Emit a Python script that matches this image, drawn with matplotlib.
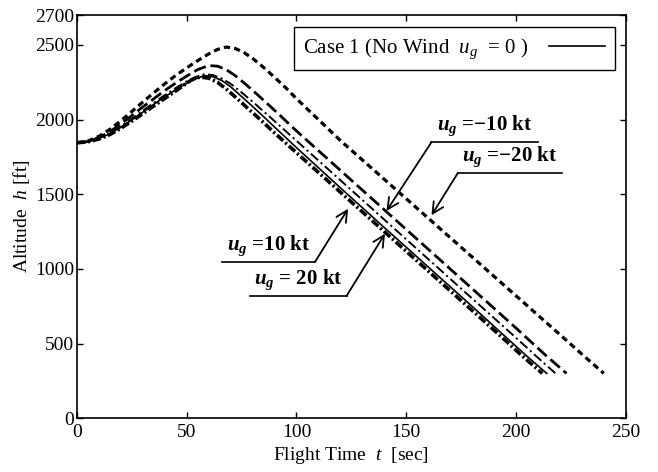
import matplotlib
matplotlib.use("Agg")
import matplotlib.pyplot as plt

plt.rcParams["font.family"] = ["Liberation Serif", "DejaVu Serif"]
plt.rcParams["mathtext.fontset"] = "custom"
plt.rcParams["mathtext.rm"] = "Liberation Serif"
plt.rcParams["mathtext.it"] = "Liberation Serif:italic"
plt.rcParams["mathtext.bf"] = "Liberation Serif:bold"
plt.rcParams["mathtext.bfit"] = "Liberation Serif:italic:bold"
plt.rcParams["lines.scale_dashes"] = False

# flight time [sec] and altitude [ft]
t_ug0 = [0, 5, 10, 15, 20, 25, 30, 35, 40, 45, 50, 54, 58, 62, 66, 70, 75, 80, 85, 90,
         100, 120, 140, 160, 180, 195, 205, 214]
h_ug0 = [1845, 1852, 1873, 1905, 1948, 1998, 2050, 2102, 2152, 2200, 2243, 2272, 2295, 2287,
         2262, 2220, 2155, 2088, 2020, 1950, 1812, 1543, 1277, 1013, 749, 548, 415, 300]

t_ug10 = [0, 5, 10, 15, 20, 25, 30, 35, 40, 45, 50, 53, 56, 60, 64, 68, 73, 78, 85, 90,
          100, 120, 140, 160, 180, 193, 203, 212]
h_ug10 = [1845, 1851, 1870, 1900, 1942, 1990, 2040, 2092, 2142, 2192, 2245, 2272, 2285, 2278,
          2250, 2205, 2140, 2073, 1980, 1911, 1778, 1514, 1250, 986, 722, 550, 415, 300]

t_ug20 = [0, 5, 10, 15, 20, 25, 30, 35, 40, 45, 50, 54, 58, 62, 66, 70, 75, 80, 85, 90,
          100, 120, 140, 160, 180, 199, 209, 218]
h_ug20 = [1845, 1852, 1876, 1910, 1955, 2006, 2060, 2113, 2164, 2212, 2256, 2285, 2304, 2298,
          2275, 2240, 2182, 2120, 2055, 1990, 1858, 1594, 1330, 1066, 802, 552, 418, 300]

t_ugm10 = [0, 5, 10, 15, 20, 25, 30, 35, 40, 45, 50, 55, 60, 64, 68, 72, 77, 82, 87, 92,
           100, 120, 140, 160, 180, 200, 213, 223]
h_ugm10 = [1845, 1853, 1880, 1920, 1970, 2027, 2085, 2140, 2195, 2245, 2292, 2335, 2362, 2358,
           2335, 2295, 2235, 2170, 2103, 2035, 1924, 1660, 1396, 1132, 868, 604, 428, 300]

t_ugm20 = [0, 5, 10, 15, 20, 25, 30, 35, 40, 45, 50, 55, 60, 64, 68, 72, 76, 80, 85, 90,
           95, 100, 110, 120, 140, 160, 180, 200, 220, 231, 240]
h_ugm20 = [1845, 1856, 1888, 1935, 1992, 2055, 2118, 2180, 2240, 2296, 2347, 2395, 2440, 2470,
           2486, 2477, 2450, 2410, 2350, 2283, 2215, 2140, 2000, 1860, 1600, 1340, 1080, 820,
           560, 416, 300]

# annotation: label, arrow tip (t, h), elbow (t, h), underline end t
notes = [
    (r"$\mathbfit{u_g}$ =−10 kt", (141, 1388), (161.5, 1849), 209.9),
    (r"$\mathbfit{u_g}$ =−20 kt", (161.5, 1359), (173.5, 1642), 220.9),
    (r"$\mathbfit{u_g}$ =10 kt", (123.5, 1403), (108.4, 1046), 65.9),
    (r"$\mathbfit{u_g}$ = 20 kt", (140.3, 1236), (122.8, 819), 78.8),
]

fig = plt.figure(figsize=(6.58, 4.72), dpi=100)
ax = fig.add_axes([0.117, 0.114, 0.834, 0.854])

ax.plot(t_ugm20, h_ugm20, color="black", lw=2.3, linestyle=(0, (4.5, 3)))
ax.plot(t_ugm10, h_ugm10, color="black", lw=2.0, linestyle=(0, (9, 3.5)))
ax.plot(t_ug20, h_ug20, color="black", lw=1.4, linestyle=(0, (7, 2.5, 1.5, 2.5)))
ax.plot(t_ug10, h_ug10, color="black", lw=2.6, linestyle=(0, (6, 2, 1.5, 2)))
ax.plot(t_ug0, h_ug0, color="black", lw=1.2, label=r"Case 1 (No Wind  $u_g$  = 0 )")

for label, tip, elbow, end in notes:
    ax.plot([elbow[0], end], [elbow[1], elbow[1]], color="black", lw=1.2)
    ax.annotate("", xy=tip, xytext=elbow,
                arrowprops=dict(arrowstyle="->", lw=1.3, color="black",
                                shrinkA=0, shrinkB=0, mutation_scale=20))
    ax.text((elbow[0] + end) / 2, elbow[1] + 28, label, ha="center", va="bottom",
            fontsize=15, fontweight="bold")

leg = ax.legend(loc="upper right", bbox_to_anchor=(0.98, 0.97), borderaxespad=0,
                fancybox=False, edgecolor="black", framealpha=1, fontsize=15,
                markerfirst=False, handlelength=2.7, handletextpad=1.0, borderpad=0.45)
leg.get_frame().set_linewidth(1.0)

ax.set_xlim(0, 250)
ax.set_ylim(0, 2700)
ax.set_xticks([0, 50, 100, 150, 200, 250])
ax.set_yticks([0, 500, 1000, 1500, 2000, 2500, 2700])
ax.tick_params(direction="in", top=True, right=True, labelsize=14, length=4, width=1)
ax.tick_params(axis="x", pad=4)
ax.tick_params(axis="y", pad=2)
for s in ax.spines.values():
    s.set_linewidth(1.2)

ax.set_xlabel(r"Flight Time  $t$  [sec]", fontsize=14, labelpad=3)
ax.set_ylabel(r"Altitude  $h$ [ft]", fontsize=14, labelpad=2)

fig.savefig("out.png", dpi=100)
